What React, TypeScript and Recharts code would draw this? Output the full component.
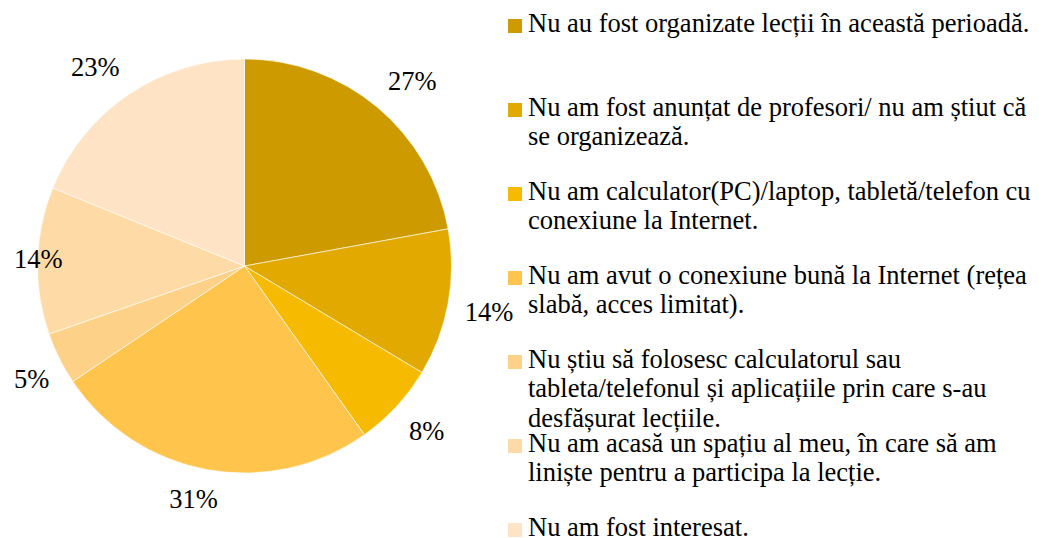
import React from 'react';
import { PieChart, Pie, Cell, Legend } from 'recharts';

const categories = [
  'Nu au fost organizate lecții în această perioadă.',
  'Nu am fost anunțat de profesori/ nu am știut că se organizează.',
  'Nu am calculator(PC)/laptop, tabletă/telefon cu conexiune la Internet.',
  'Nu am avut o conexiune bună la Internet (rețea slabă, acces limitat).',
  'Nu știu să folosesc calculatorul sau tableta/telefonul și aplicațiile prin care s-au desfășurat lecțiile.',
  'Nu am acasă un spațiu al meu, în care să am liniște pentru a participa la lecție.',
  'Nu am fost interesat.',
];

const values = [27, 14, 8, 31, 5, 14, 23];

const colors = ['#CD9B00', '#E2AA00', '#F6BA00', '#FEC44B', '#FED188', '#FEDBA6', '#FEE4C4'];

const data = categories.map((name, i) => ({ name, value: values[i] }));

const FONT = '"Liberation Serif", "Times New Roman", serif';
const FONT_SIZE = 26.5;

const clamp = (t: number) => Math.max(-1, Math.min(1, t));

// outside-end labels: the box corner nearest the pie sits on a ring just outside the rim
const renderLabel = (props: any) => {
  const { cx, cy, midAngle, outerRadius, value } = props;
  const text = `${value}%`;
  const w = ((text.length - 1) * 0.5 + 0.833) * FONT_SIZE;
  const h = 26;
  const rad = (-midAngle * Math.PI) / 180;
  const ux = Math.cos(rad);
  const uy = Math.sin(rad);
  const r = outerRadius + 17;
  let x = cx + r * ux + (w / 2) * clamp(ux * 2.5);
  const y = cy + r * uy + (h / 2) * clamp(uy * 2.5);
  if (x - w / 2 < 14) x = 14 + w / 2;
  return (
    <text
      x={x}
      y={y}
      textAnchor="middle"
      dominantBaseline="central"
      fill="#000"
      style={{ fontFamily: FONT, fontSize: FONT_SIZE }}
    >
      {text}
    </text>
  );
};

const renderLegend = () => (
  <div style={{ position: 'relative', width: 531, height: 538 }}>
    {categories.map((name, i) => (
      <div
        key={name}
        style={{
          position: 'absolute',
          left: 0,
          top: 8.5 + i * 84,
          width: 531,
          display: 'flex',
          alignItems: 'flex-start',
        }}
      >
        <span
          style={{
            display: 'inline-block',
            width: 14,
            height: 14,
            marginTop: 10,
            marginRight: 6,
            background: colors[i],
            flex: 'none',
          }}
        />
        <span
          style={{
            fontFamily: FONT,
            fontSize: FONT_SIZE,
            lineHeight: '29.5px',
            color: '#000',
            width: 512,
          }}
        >
          {name}
        </span>
      </div>
    ))}
  </div>
);

export default function App() {
  return (
    <div style={{ width: 1039, height: 538, position: 'relative', background: '#fff', overflow: 'hidden' }}>
      <style>{`body{margin:0}`}</style>
      <PieChart width={1039} height={538} margin={{ top: 0, right: 0, bottom: 0, left: 0 }}>
        <Pie
          data={data}
          dataKey="value"
          nameKey="name"
          cx={244.5}
          cy={266}
          outerRadius={207}
          startAngle={90}
          endAngle={-270}
          stroke="#ffffff"
          strokeWidth={0.6}
          label={renderLabel}
          labelLine={false}
          isAnimationActive={false}
        >
          {data.map((d, i) => (
            <Cell key={`cell-${i}`} fill={colors[i]} />
          ))}
        </Pie>
        <Legend
          content={renderLegend}
          wrapperStyle={{ position: 'absolute', left: 508, top: 0, width: 531, height: 538 }}
        />
      </PieChart>
    </div>
  );
}
